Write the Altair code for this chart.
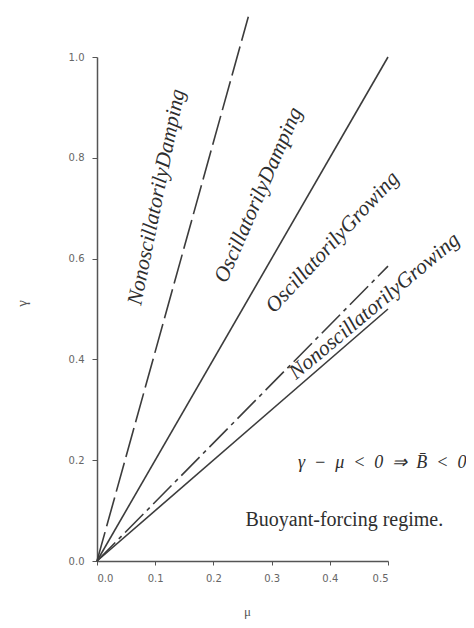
import altair as alt
import pandas as pd

# Boundary lines from the origin (mu, gamma)
boundary_names = ["steep dashed", "upper solid", "dash-dot", "lower solid"]
boundary_mu_end = [0.26, 0.50, 0.50, 0.50]
boundary_gamma_end = [1.08, 1.00, 0.585, 0.50]

# Region labels
region_text = ["NonoscillatorilyDamping", "OscillatorilyDamping",
               "OscillatorilyGrowing", "NonoscillatorilyGrowing"]
region_mu = [0.103, 0.278, 0.405, 0.477]
region_gamma = [0.722, 0.726, 0.632, 0.505]
region_angle = [281.5, 293.7, 313.0, 320.0]

# Other annotations
note_text = ["γ\u2002−\u2002μ\u2002<\u20020\u2002⇒\u2002B\u0304\u2002<\u20020", "Buoyant-forcing regime."]
note_mu = [0.490, 0.425]
note_gamma = [0.194, 0.081]

x_ticks = [0.0, 0.1, 0.2, 0.3, 0.4, 0.5]
y_ticks = [0.0, 0.2, 0.4, 0.6, 0.8, 1.0]

line_color = "#3c3c3c"
xs = alt.Scale(domain=[0, 0.5], nice=False, zero=False)
ys = alt.Scale(domain=[0, 1.0], nice=False, zero=False)

dashes = [[30, 6], [1, 0], [26, 5, 4, 5], [1, 0]]

layers = []
for i, name in enumerate(boundary_names):
    df = pd.DataFrame({"mu": [0.0, boundary_mu_end[i]],
                       "gamma": [0.0, boundary_gamma_end[i]],
                       "line": [name, name]})
    mk = dict(color=line_color, strokeWidth=1.6)
    if dashes[i] != [1, 0]:
        mk["strokeDash"] = dashes[i]
    layer = alt.Chart(df).mark_line(**mk).encode(
        x=alt.X("mu:Q", scale=xs,
                axis=alt.Axis(values=x_ticks, format=".1f", title="μ",
                              grid=False, domainColor="#555", domainWidth=1.5,
                              tickColor="#555", tickSize=4, labelPadding=8,
                              labelColor="#666", labelFont="DejaVu Sans", labelFontSize=10,
                              titleFont="Liberation Serif", titleFontSize=13,
                              titleFontWeight="normal", titleColor="#555",
                              titleX=150, titleY=50, titleBaseline="middle")),
        y=alt.Y("gamma:Q", scale=ys,
                axis=alt.Axis(values=y_ticks, format=".1f", title="γ",
                              grid=False, domainColor="#555", domainWidth=1.5,
                              tickColor="#555", tickSize=5, labelPadding=8,
                              labelColor="#666", labelFont="DejaVu Sans", labelFontSize=10,
                              titleFont="Liberation Serif", titleFontSize=15,
                              titleFontWeight="normal", titleColor="#555",
                              titleX=-76, titleY=246, titleAngle=270,
                              titleBaseline="middle")),
    )
    layers.append(layer)

regions_df = pd.DataFrame({"text": region_text, "mu": region_mu,
                           "gamma": region_gamma, "angle": region_angle})
region_layer = alt.Chart(regions_df).mark_text(
    font="Liberation Serif", fontStyle="italic", fontSize=21.5,
    color="#2e2e2e", align="center", baseline="middle"
).encode(
    x=alt.X("mu:Q", scale=xs),
    y=alt.Y("gamma:Q", scale=ys),
    text="text:N",
    angle=alt.Angle("angle:Q", scale=None),
)

formula_df = pd.DataFrame({"text": [note_text[0]], "mu": [note_mu[0]], "gamma": [note_gamma[0]]})
formula_layer = alt.Chart(formula_df).mark_text(
    font="Liberation Serif", fontStyle="italic", fontSize=18,
    color="#2e2e2e", align="center", baseline="middle"
).encode(x=alt.X("mu:Q", scale=xs), y=alt.Y("gamma:Q", scale=ys), text="text:N")

regime_df = pd.DataFrame({"text": [note_text[1]], "mu": [note_mu[1]], "gamma": [note_gamma[1]]})
regime_layer = alt.Chart(regime_df).mark_text(
    font="Liberation Serif", fontSize=20,
    color="#2e2e2e", align="center", baseline="middle"
).encode(x=alt.X("mu:Q", scale=xs), y=alt.Y("gamma:Q", scale=ys), text="text:N")

chart = alt.layer(*layers, region_layer, formula_layer, regime_layer).properties(
    width=291, height=504,
    padding={"left": 89, "top": 49, "right": 78, "bottom": 58},
    autosize=alt.AutoSizeParams(type="none"),
    background="white",
).configure_view(stroke=None)

chart.save("out.html", embed_options={"renderer": "svg", "actions": False})
